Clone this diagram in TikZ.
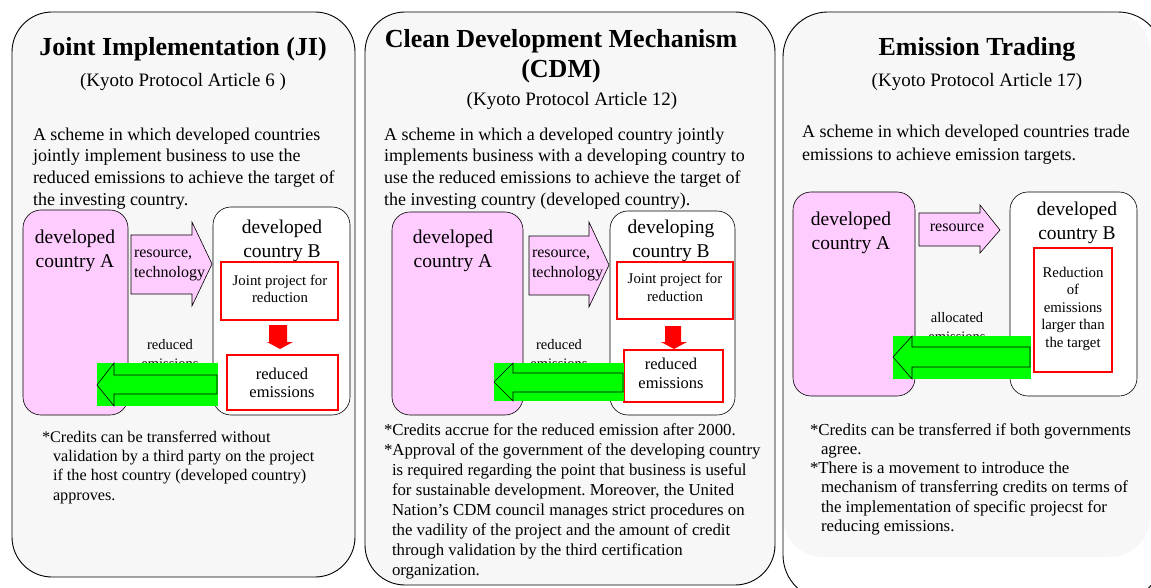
\documentclass[tikz,border=0pt]{standalone}
\usepackage{fontspec}
\setmainfont{Liberation Serif}
\frenchspacing
\definecolor{panelgray}{HTML}{F7F7F7}
\definecolor{pinkc}{HTML}{FFCCFF}
\definecolor{greenc}{HTML}{00FF00}
\begin{document}
\begin{tikzpicture}[x=1pt,y=-1pt,
  panel/.style={draw=black, line width=0.9pt, fill=panelgray, rounded corners=40pt},
  pinkbox/.style={draw=black, line width=0.6pt, fill=pinkc, rounded corners=18pt},
  whitebox/.style={draw=black, line width=0.6pt, fill=white, rounded corners=18pt},
  redbox/.style={draw=red, line width=2.6pt, fill=white},
  fatarrow/.style={draw=black, line width=0.6pt, fill=pinkc},
  redarrow/.style={fill=red},
  greenrect/.style={fill=greenc},
  greenarrow/.style={draw=black, line width=0.6pt},
  txt/.style={inner sep=0pt, outer sep=0pt, align=left, anchor=base west},
  ctxt/.style={inner sep=0pt, outer sep=0pt, align=center, anchor=base},
  ftitle/.style={font=\fontsize{26}{30}\selectfont\bfseries},
  fsub/.style={font=\fontsize{19}{22}\selectfont},
  fbody/.style={font=\fontsize{18}{22}\selectfont},
  fbodyb/.style={font=\fontsize{18}{23}\selectfont},
  fbox/.style={font=\fontsize{19.5}{24}\selectfont},
  freda/.style={font=\fontsize{14.8}{17.5}\selectfont},
  farr/.style={font=\fontsize{16}{20}\selectfont},
  flab/.style={font=\fontsize{14.5}{19}\selectfont},
  fredb/.style={font=\fontsize{16.5}{18.5}\selectfont},
  fnotea/.style={font=\fontsize{16.2}{19.3}\selectfont},
  fnoteb/.style={font=\fontsize{16.8}{20}\selectfont},
  fnotec/.style={font=\fontsize{16.8}{19.3}\selectfont}
]
\useasboundingbox (0,0) rectangle (1151,588);
\clip (0,0) rectangle (1151,588);
\fill[white] (0,0) rectangle (1151,588);

% ---------- Panel 1 : JI ----------
\draw[panel] (12,12) rectangle (355,577);
\node[ctxt, ftitle] (t1) at (183,56) {Joint Implementation (JI)};
\node[ctxt, fsub] (s1) at (183,87) {(Kyoto Protocol Article 6 )};
\node[txt, fbody] (b1) at (33,206) {A scheme in which developed countries\\jointly implement business to use the\\reduced emissions to achieve the target of\\the investing country.};
\draw[pinkbox] (23,210) rectangle (128,415);
\node[ctxt, fbox] (a1) at (75,267) {developed\\country A};
\draw[whitebox] (213,207) rectangle (350,415);
\node[ctxt, fbox] (bb1) at (282,257) {developed\\country B};
\draw[fatarrow] (131,235) -- (192,235) -- (192,222) -- (212,264) -- (192,306) -- (192,294) -- (131,294) -- cycle;
\node[txt, farr] (r1) at (134,277) {resource,\\technology};
\draw[redbox] (221,262) rectangle (338,320);
\node[ctxt, freda] (jp1) at (280,302.5) {Joint project for\\reduction};
\fill[redarrow] (269,325) -- (287,325) -- (287,342) -- (293,342) -- (280,349) -- (267,342) -- (269,342) -- cycle;
\draw[redbox] (227,355) rectangle (338,410);
\node[ctxt, fredb] (re1) at (282,397.5) {reduced\\emissions};
\node[ctxt, flab] (l1) at (170,368) {reduced\\emissions};
\fill[greenrect] (97,363) rectangle (218,406);
\draw[greenarrow] (97,385) -- (114,363) -- (114,375) -- (217,375) -- (217,394) -- (114,394) -- (114,406) -- cycle;
\node[txt, fnotea] (n1) at (42,500) {*Credits can be transferred without\\\hspace*{11pt}validation by a third party on the project\\\hspace*{11pt}if the host country (developed country)\\\hspace*{11pt}approves.};

% ---------- Panel 2 : CDM ----------
\draw[panel] (365,12) rectangle (775,585);
\node[ctxt, ftitle] (t2) at (561,78) {Clean Development Mechanism\\(CDM)};
\node[ctxt, fsub] (s2) at (572,106) {(Kyoto Protocol Article 12)};
\node[txt, fbody] (b2) at (384,206) {A scheme in which a developed country jointly\\implements business with a developing country to\\use the reduced emissions to achieve the target of\\the investing country (developed country).};
\draw[pinkbox] (392,212) rectangle (523,415);
\node[ctxt, fbox] (a2) at (453,267) {developed\\country A};
\draw[whitebox] (610,211) rectangle (735,415);
\node[ctxt, fbox] (bb2) at (671,257) {developing\\country B};
\draw[fatarrow] (529,236) -- (589,236) -- (589,222) -- (609,265) -- (589,307) -- (589,295) -- (529,295) -- cycle;
\node[txt, farr] (r2) at (532,277) {resource,\\technology};
\draw[redbox] (617,262) rectangle (733,319);
\node[ctxt, freda] (jp2) at (675,301.5) {Joint project for\\reduction};
\fill[redarrow] (665,326) -- (681,326) -- (681,342) -- (687,342) -- (674,349) -- (661,342) -- (665,342) -- cycle;
\draw[redbox] (624,350) rectangle (723,402);
\node[ctxt, fredb] (re2) at (671,388) {reduced\\emissions};
\node[ctxt, flab] (l2) at (559,368) {reduced\\emissions};
\fill[greenrect] (494,363) rectangle (624,401);
\draw[greenarrow] (494,382) -- (513,363) -- (513,373) -- (623,373) -- (623,392) -- (513,392) -- (513,401) -- cycle;
\node[txt, fnoteb] (n2) at (384,575) {*Credits accrue for the reduced emission after 2000.\\*Approval of the government of the developing country\\\hspace*{8pt}is required regarding the point that business is useful\\\hspace*{8pt}for sustainable development. Moreover, the United\\\hspace*{8pt}Nation's CDM council manages strict procedures on\\\hspace*{8pt}the vadility of the project and the amount of credit\\\hspace*{8pt}through validation by the third certification\\\hspace*{8pt}organization.};

% ---------- Panel 3 : Emission Trading ----------
\fill[panelgray, rounded corners=40pt] (783,12) rectangle (1150,557);
\draw[line width=0.9pt, rounded corners=45pt] (783,12) rectangle (1163,600);
\node[ctxt, ftitle] (t3) at (977,56) {Emission Trading};
\node[ctxt, fsub] (s3) at (977,87) {(Kyoto Protocol Article 17)};
\node[txt, fbodyb] (b3) at (802,161) {A scheme in which developed countries trade\\emissions to achieve emission targets.};
\draw[pinkbox] (793,192) rectangle (915,396);
\node[ctxt, fbox] (a3) at (851,249) {developed\\country A};
\draw[whitebox] (1010,192) rectangle (1137,396);
\node[ctxt, fbox] (bb3) at (1077,240) {developed\\country B};
\draw[fatarrow] (919,213) -- (980,213) -- (980,205) -- (1000,230) -- (980,253) -- (980,246) -- (919,246) -- cycle;
\node[ctxt, farr] (r3) at (957,232) {resource};
\draw[redbox] (1034,248) rectangle (1112,372);
\node[ctxt, freda] (rd3) at (1073,347) {Reduction\\of\\emissions\\larger than\\the target};
\node[ctxt, flab] (l3) at (957,341) {allocated\\emissions};
\fill[greenrect] (893,336) rectangle (1031,379);
\draw[greenarrow] (893,357) -- (912,336) -- (912,347) -- (1030,347) -- (1030,367) -- (912,367) -- (912,379) -- cycle;
\node[txt, fnotec] (n3) at (810,531.5) {*Credits can be transferred if both governments\\\hspace*{11pt}agree.\\*There is a movement to introduce the\\\hspace*{11pt}mechanism of transferring credits on terms of\\\hspace*{11pt}the implementation of specific projecst for\\\hspace*{11pt}reducing emissions.};
\end{tikzpicture}
\end{document}
